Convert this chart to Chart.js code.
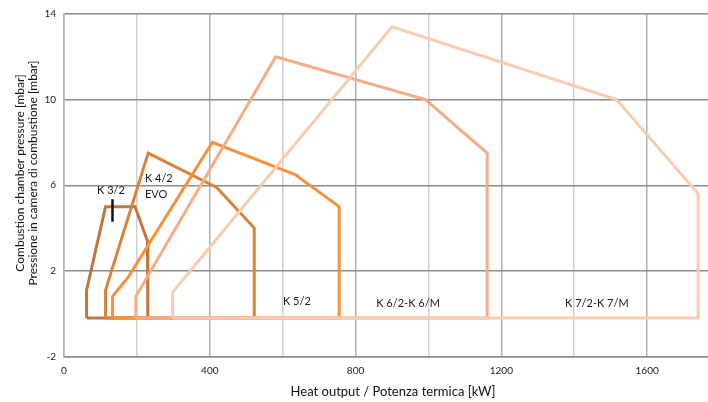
<!DOCTYPE html>
<html>
<head>
<meta charset="utf-8">
<script src="https://cdn.jsdelivr.net/npm/chart.js@4/dist/chart.umd.min.js"></script>
<style>
html,body{margin:0;padding:0;background:#fff;}
#wrap{width:708px;height:402px;position:relative;}
</style>
</head>
<body>
<div id="wrap"><canvas id="c" width="708" height="402"></canvas></div>
<script>
// ---- data (kW, mbar) ----
const xTicks = [0, 200, 400, 600, 800, 1000, 1200, 1400, 1600];
const xTickLabels = ['0', '', '400', '', '800', '', '1200', '', '1600'];
const yTicks = [-2, 2, 6, 10, 14];
const yTickLabels = ['-2', '2', '6', '10', '14'];

const k32 = [[62,-0.2],[62,1.1],[114,5],[195,5],[229,3.4],[230,-0.2],[62,-0.2]];
const k42evo = [[114,-0.2],[114,1.1],[231,7.5],[419,5.9],[522,4],[522,-0.2],[114,-0.2]];
const k52 = [[133,-0.2],[133,0.8],[176,1.7],[407,8],[634,6.5],[755,5],[755,-0.2],[133,-0.2]];
const k62 = [[197,-0.2],[197,0.8],[581,12],[992,10],[1161,7.5],[1161,-0.2],[197,-0.2]];
const k72 = [[298,-0.2],[298,1],[900,13.4],[1516,10],[1740,5.6],[1740,-0.2],[298,-0.2]];
const marker = [[133,5.35],[133,4.3]];

const seriesNames = ['K 3/2', 'K 4/2 EVO', 'K 5/2', 'K 6/2-K 6/M', 'K 7/2-K 7/M'];
const labelTexts = [['K 3/2'], ['K 4/2', 'EVO'], ['K 5/2'], ['K 6/2-K 6/M'], ['K 7/2-K 7/M']];
const labelX = [129, 222, 639, 944, 1462];
const labelY = [5.75, 6.3, 0.59, 0.48, 0.48];
const labelAlign = ['center', 'left', 'center', 'center', 'center'];

const xTitle = 'Heat output / Potenza termica [kW]';
const yTitle = ['Combustion chamber pressure [mbar]', 'Pressione in camera di combustione [mbar]'];

const colors = ['#c4763a', '#d9823a', '#f8923a', '#f6ab84', '#f9ccb2'];

const toPts = a => a.map(p => ({x: p[0], y: p[1]}));
const polys = [k32, k42evo, k52, k62, k72];

const datasets = polys.map((p, i) => ({
  label: seriesNames[i],
  data: toPts(p),
  borderColor: colors[i],
  backgroundColor: 'transparent',
  borderWidth: 3,
  showLine: true,
  pointRadius: 0,
  fill: false,
  tension: 0,
  order: 10 - i,
  borderJoinStyle: 'miter'
}));
datasets.push({
  label: 'marker',
  data: toPts(marker),
  borderColor: '#111',
  borderWidth: 2.5,
  showLine: true,
  pointRadius: 0,
  order: 0
});

const FONT = 'Lato, "Open Sans", sans-serif';

const labelPlugin = {
  id: 'areaLabels',
  afterDatasetsDraw(chart) {
    const ctx = chart.ctx;
    const xs = chart.scales.x, ys = chart.scales.y;
    ctx.save();
    ctx.fillStyle = '#1a1a1a';
    ctx.font = '11px ' + FONT;
    ctx.textBaseline = 'middle';
    labelTexts.forEach((lines, i) => {
      const px = xs.getPixelForValue(labelX[i]);
      const py = ys.getPixelForValue(labelY[i]);
      ctx.textAlign = labelAlign[i];
      lines.forEach((t, j) => ctx.fillText(t, px, py + j * 16));
    });
    ctx.restore();
  },
  afterDraw(chart) {
    const ctx = chart.ctx;
    ctx.save();
    ctx.fillStyle = '#111';
    ctx.textAlign = 'center';
    ctx.textBaseline = 'middle';
    ctx.font = '13px ' + FONT;
    ctx.fillText(xTitle, 393, 392);
    ctx.font = '12px ' + FONT;
    ctx.translate(0, 173);
    ctx.rotate(-Math.PI / 2);
    ctx.fillText(yTitle[0], 0, 20);
    ctx.fillText(yTitle[1], 0, 33);
    ctx.restore();
  }
};

new Chart(document.getElementById('c'), {
  type: 'scatter',
  data: { datasets },
  options: {
    responsive: false,
    animation: false,
    layout: { padding: { top: 13, right: 0, left: 0, bottom: 0 } },
    plugins: { legend: { display: false }, tooltip: { enabled: false } },
    scales: {
      x: {
        type: 'linear',
        min: 0,
        max: 1767,
        afterBuildTicks: s => { s.ticks = xTicks.map(v => ({ value: v })); },
        afterFit: s => { s.height = 45.5; },
        ticks: {
          autoSkip: false,
          maxRotation: 0,
          padding: 8,
          color: '#1a1a1a',
          font: { family: FONT, size: 10 },
          callback: (v) => { const k = xTicks.indexOf(v); return k >= 0 ? xTickLabels[k] : ''; }
        },
        grid: {
          color: ctx => (ctx.tick && ctx.tick.value % 400 === 0) ? '#b2b2b2' : '#cfcfcf',
          lineWidth: 1.5,
          drawTicks: false
        },
        border: { color: '#8c8c8c', width: 1.5 }
      },
      y: {
        type: 'linear',
        min: -2,
        max: 14,
        afterBuildTicks: s => { s.ticks = yTicks.map(v => ({ value: v })); },
        afterFit: s => { s.width = 64; },
        ticks: {
          autoSkip: false,
          padding: 8,
          color: '#1a1a1a',
          font: { family: FONT, size: 10 },
          callback: (v) => { const k = yTicks.indexOf(v); return k >= 0 ? yTickLabels[k] : ''; }
        },
        grid: {
          color: '#8c8c8c',
          lineWidth: 1.5,
          drawTicks: false
        },
        border: { color: '#b2b2b2', width: 1.5 }
      }
    }
  },
  plugins: [labelPlugin]
});
</script>
</body>
</html>
